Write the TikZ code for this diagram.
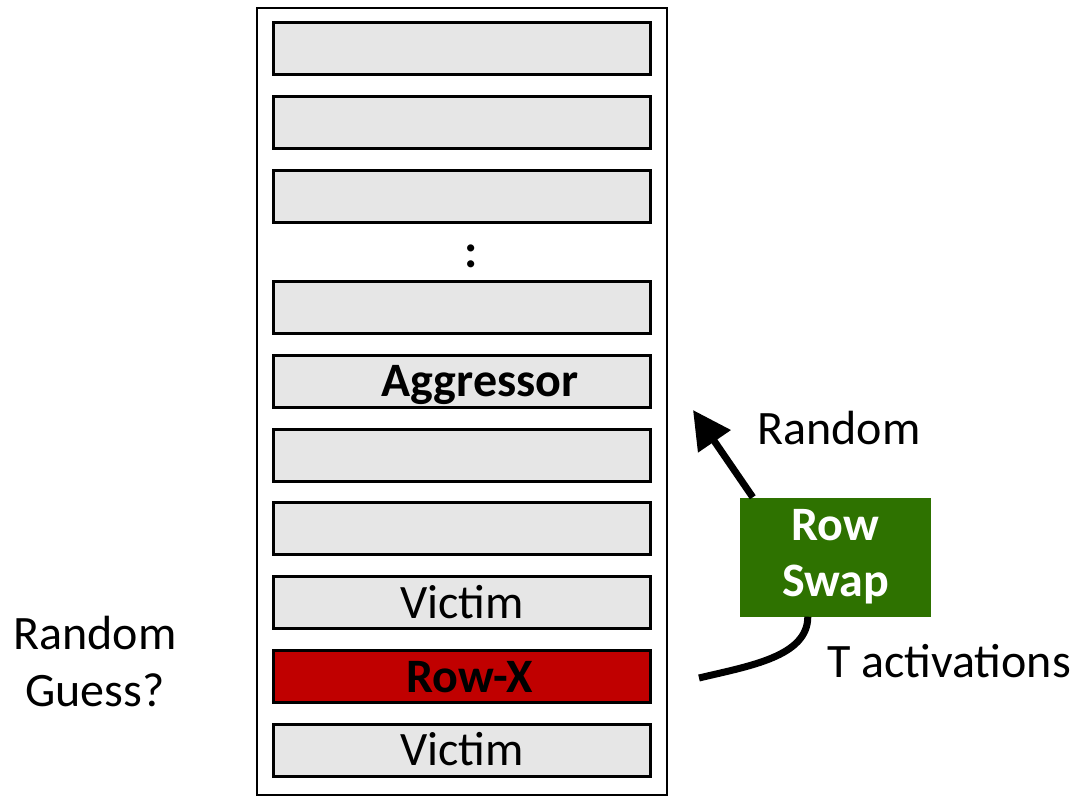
\documentclass[tikz,border=0pt]{standalone}
\usepackage{fontspec}
\setmainfont{Carlito}
\usetikzlibrary{arrows.meta,matrix}

\definecolor{rowgray}{RGB}{230,230,230}
\definecolor{rowred}{RGB}{192,0,0}
\definecolor{swapgreen}{RGB}{46,114,0}

\tikzset{
  sidetext/.style={font=\fontsize{48}{57}\selectfont},
  thick arrow/.style={line width=7pt},
}

\begin{document}
\begin{tikzpicture}[x=1pt,y=-1pt]
    \useasboundingbox (0,0) rectangle (1078,797);
    % the bank holding the rows
    \node (bank) [draw, line width=2pt, minimum width=410pt,
      minimum height=787pt, inner sep=0pt] at (462,401.5) {};
    \matrix (m) [matrix of nodes,
    nodes={draw, line width=3pt, fill=rowgray, minimum width=377pt,
      minimum height=52pt, inner sep=0pt, text height=36pt, text depth=5pt,
      font=\fontsize{48}{57}\selectfont, anchor=center},
    nodes in empty cells, row sep=18.8pt,
    row 4/.style={nodes={draw=none, fill=none, minimum height=0pt}},
    row 10/.style={nodes={fill=rowred}},
    matrix anchor=m-1-1.center] at (462,48.5)
    {
      \\
      \\
      \\[-11.1pt]
      \hspace{18pt}\textbf{:} \\[-11.1pt]
      \\
      \hspace{36pt}\textbf{Aggressor} \\
      \\
      \\
      Victim \\
      \hspace{16pt}\textbf{Row-X} \\
      Victim \\
    };

    % the remapping unit
    \node (swap) [fill=swapgreen, text=white, align=center,
      font=\bfseries\fontsize{48}{56}\selectfont, minimum width=191pt,
      minimum height=119pt, inner sep=0pt] at (835.5,557) {Row\\Swap};
    \coordinate (rnd) at (693,410);
    \coordinate (xin) at (699,678);
    \draw[thick arrow, -{Triangle[length=38pt,width=38pt]}]
      ([xshift=13pt]swap.north west) -- (rnd);
    \draw[thick arrow] ([xshift=68pt]swap.south west)
      .. controls +(0,40) and +(50,-12) .. (xin);

    \node (rlab) [sidetext, anchor=base] at (839,444) {Random};
    \node (tlab) [sidetext, anchor=base] at (949,677) {T activations};
    \node (guess) [sidetext, align=center] at (95,662) {Random\\Guess?};
  \end{tikzpicture}
\end{document}
